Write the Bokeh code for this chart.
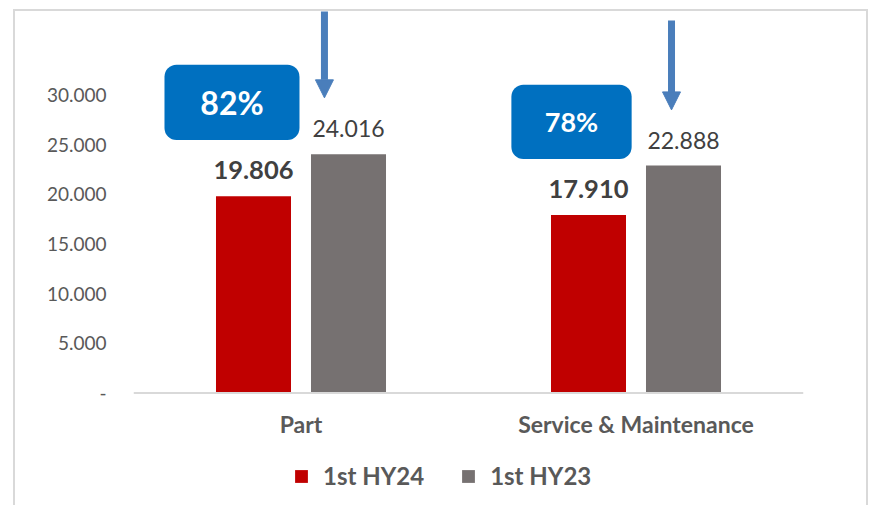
from bokeh.plotting import figure
from bokeh.models import (ColumnDataSource, FactorRange, Range1d, FixedTicker, LabelSet,
                          Label, BoxAnnotation, Arrow, NormalHead, Span)
from bokeh.transform import dodge
from bokeh.core.properties import value
from bokeh.embed import file_html
from bokeh.resources import INLINE

categories = ["Part", "Service & Maintenance"]
hy24 = [19806, 17910]
hy23 = [24016, 22888]
series_names = ["1st HY24", "1st HY23"]
y_ticks = [0, 5000, 10000, 15000, 20000, 25000, 30000]

def fmt(v):
    return f"{v:,}".replace(",", ".") if v else "-"

FONT = "Lato"
RED = "#C00000"
GRAY = "#767171"
BLUE = "#0070C0"
ARROW = "#4A7EBB"

src = ColumnDataSource(dict(
    cat=categories, hy24=hy24, hy23=hy23,
    lab24=[fmt(v) for v in hy24], lab23=[fmt(v) for v in hy23],
))

p = figure(width=855, height=496, output_backend="svg", toolbar_location=None,
           x_range=FactorRange(*categories, range_padding=0, factor_padding=0),
           y_range=Range1d(-11010, 38384),
           min_border_left=118, min_border_right=67, min_border_top=0, min_border_bottom=5)
p.margin = (9, 0, 0, 13)
p.styles = {"border": "2px solid #D9D9D9", "border-bottom": "none"}
p.outline_line_color = None
p.grid.visible = False
p.background_fill_color = "white"
p.border_fill_color = "white"

off = 0.1418
bw = 0.2239
r24 = p.vbar(x=dodge("cat", -off, range=p.x_range), top="hy24", width=bw, source=src,
             fill_color=RED, line_color=None, legend_label=series_names[0])
r23 = p.vbar(x=dodge("cat", off, range=p.x_range), top="hy23", width=bw, source=src,
             fill_color=GRAY, line_color=None, legend_label=series_names[1])

# category baseline
p.add_layout(Span(location=0, dimension="width", line_color="#D9D9D9", line_width=2))

# category labels (x axis)
p.add_layout(LabelSet(x="cat", y=0, text="cat", source=src, y_offset=-31,
                      text_align="center", text_baseline="middle",
                      text_font=value(FONT), text_font_size="23px", text_font_style="bold",
                      text_color="#595959"))

p.add_layout(LabelSet(x=dodge("cat", -off, range=p.x_range), y="hy24", text="lab24", source=src,
                      text_align="center", text_baseline="alphabetic", y_offset=17,
                      text_font=value(FONT), text_font_size="25.5px", text_font_style="bold",
                      text_color="#404040"))
p.add_layout(LabelSet(x=dodge("cat", off, range=p.x_range), y="hy23", text="lab23", source=src,
                      text_align="center", text_baseline="alphabetic", y_offset=17,
                      text_font=value(FONT), text_font_size="23px", text_color="#404040"))

# percentage callouts
pct = [round(a / b * 100) for a, b in zip(hy24, hy23)]
boxes = [(0.0925, 0.4955, 33030, 25455, "32px"), (1.128, 1.487, 31010, 23535, "27px")]
for (l, r, t, b, fs), pv in zip(boxes, pct):
    p.add_layout(BoxAnnotation(left=l, right=r, top=t, bottom=b, fill_color=BLUE, fill_alpha=1,
                               line_color=None, border_radius=12))
    p.add_layout(Label(x=(l + r) / 2, y=(t + b) / 2, text=f"{pv}%", text_align="center",
                       text_baseline="middle", text_font=FONT, text_font_size=fs,
                       text_font_style="bold", text_color="white"))

arrows = [(0.570, 42000, 29697), (1.606, 37475, 28485)]
for ax, ys, ye in arrows:
    p.add_layout(Arrow(end=NormalHead(size=18, fill_color=ARROW, line_color=ARROW),
                       x_start=ax, y_start=ys, x_end=ax, y_end=ye,
                       line_color=ARROW, line_width=7))

# axes
p.xaxis.visible = False
p.yaxis.ticker = FixedTicker(ticks=y_ticks)
p.yaxis.major_label_overrides = {t: fmt(t) for t in y_ticks}
p.yaxis.axis_line_color = None
p.yaxis.major_tick_line_color = None
p.yaxis.minor_tick_line_color = None
p.yaxis.major_label_standoff = 21
p.yaxis.major_label_text_font = FONT
p.yaxis.major_label_text_font_size = "19px"
p.yaxis.major_label_text_color = "#595959"

lg = p.legend[0]
lg.orientation = "horizontal"
lg.location = (160, 12)
lg.padding = 0
lg.margin = 0
lg.border_line_color = None
lg.background_fill_alpha = 0
lg.glyph_width = 16
lg.glyph_height = 16
lg.label_standoff = 14
lg.spacing = 36
lg.label_text_font = FONT
lg.label_text_font_size = "24px"
lg.label_text_font_style = "bold"
lg.label_text_color = "#595959"

open("out.html", "w").write(file_html(p, INLINE))
